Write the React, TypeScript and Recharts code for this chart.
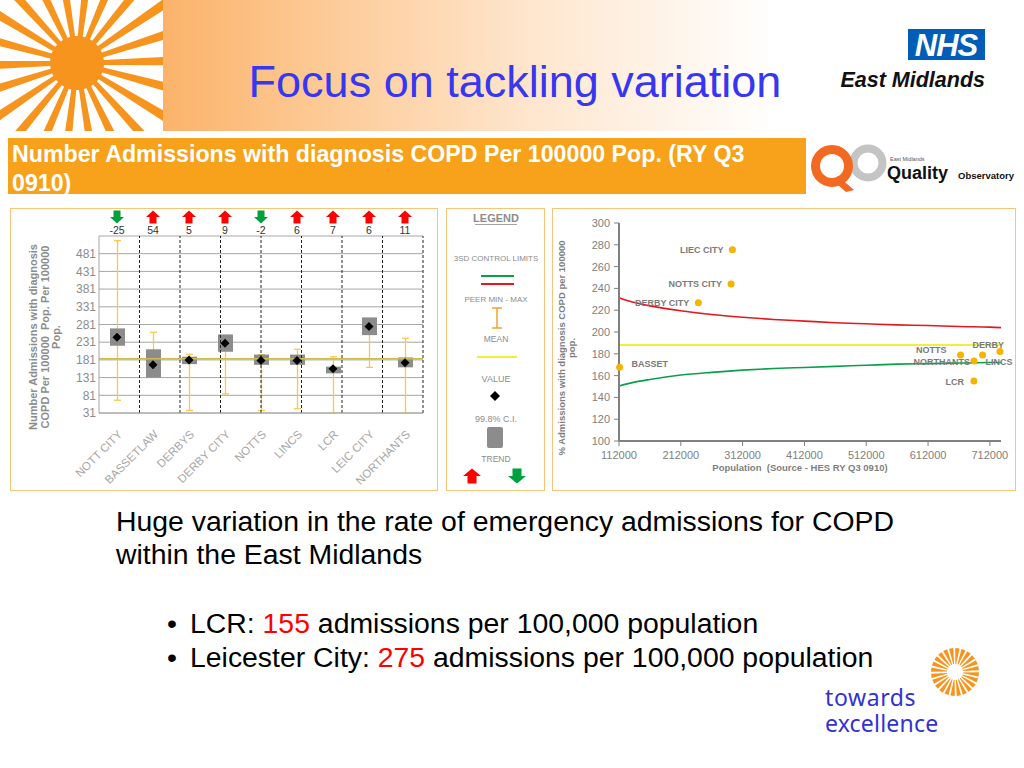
import React from 'react';
import { ComposedChart, Bar, Line, Scatter, XAxis, YAxis, CartesianGrid, ReferenceLine } from 'recharts';

// ---------- Left chart data ----------
const categories = ['NOTT CITY', 'BASSETLAW', 'DERBYS', 'DERBY CITY', 'NOTTS', 'LINCS', 'LCR', 'LEIC CITY', 'NORTHANTS'];
const rateValues = [245, 167, 181, 228, 179, 179, 156, 275, 173];
const ciLow = [221, 131, 169, 204, 167, 167, 143, 251, 160];
const ciHigh = [270, 211, 190, 253, 196, 196, 162, 301, 188];
const peerMin = [67, 150, 38, 85, 38, 43, 31, 160, 31];
const peerMax = [518, 259, 197, 240, 196, 211, 190, 265, 242];
const trendChange = [-25, 54, 5, 9, -2, 6, 7, 6, 11];
const peerMean = 184;
const leftTicks = [31, 81, 131, 181, 231, 281, 331, 381, 431, 481];
const dividerPositions = [1, 2, 3, 4, 5, 6, 7, 8];

// ---------- Right chart data ----------
const areaNames = ['LIEC CITY', 'NOTTS CITY', 'DERBY CITY', 'BASSET', 'NOTTS', 'NORTHANTS', 'LINCS', 'DERBY', 'LCR'];
const areaPopulation = [295500, 293300, 240400, 113000, 664600, 686200, 700200, 728300, 686200];
const areaRate = [275.5, 244, 226.8, 167.7, 179, 173.5, 179, 182, 155];
const limitPopulation = [112000, 137000, 162000, 212000, 262000, 312000, 362000, 412000, 462000, 512000, 562000, 612000, 662000, 712000, 730000];
const upperLimit = [231.5, 227, 224, 219.5, 216, 213.5, 211.5, 210, 208.5, 207.5, 206.5, 206, 205, 204.5, 204];
const lowerLimit = [150.5, 154, 156.5, 160.5, 163, 165, 166.5, 167.5, 168.5, 169.5, 170.5, 171, 171.5, 172, 172];
const regionMean = 188;
const popTicks = [112000, 212000, 312000, 412000, 512000, 612000, 712000];
const rightTicks = [100, 120, 140, 160, 180, 200, 220, 240, 260, 280, 300];

const leftData = categories.map((name, i) => ({
  name,
  value: rateValues[i],
  ci: [ciLow[i], ciHigh[i]],
  peer: [peerMin[i], peerMax[i]],
  trend: trendChange[i],
}));
const scatterData = areaNames.map((name, i) => ({ name, pop: areaPopulation[i], rate: areaRate[i] }));
const limitData = limitPopulation.map((pop, i) => ({ pop, upper: upperLimit[i], lower: lowerLimit[i] }));

const labelPlacement: Record<string, { dx: number; dy: number; anchor: string }> = {
  'LIEC CITY': { dx: -9, dy: 0, anchor: 'end' },
  'NOTTS CITY': { dx: -9, dy: 0, anchor: 'end' },
  'DERBY CITY': { dx: -9, dy: 0, anchor: 'end' },
  BASSET: { dx: 12, dy: -3, anchor: 'start' },
  NOTTS: { dx: -14, dy: -5, anchor: 'end' },
  NORTHANTS: { dx: -4, dy: 1, anchor: 'end' },
  LINCS: { dx: 3, dy: 7, anchor: 'start' },
  DERBY: { dx: 4, dy: -7, anchor: 'end' },
  LCR: { dx: -10, dy: 1, anchor: 'end' },
};

const FONT = '"Liberation Sans", Arial, sans-serif';

// ---------- shapes ----------
const arrowPoints = (cx: number, cy: number, up: boolean, w = 14, h = 13) => {
  const s = up ? 1 : -1;
  const hw = w / 2;
  const sw = w / 4;
  return [
    [cx, cy - s * h / 2],
    [cx + hw, cy],
    [cx + sw, cy],
    [cx + sw, cy + s * h / 2],
    [cx - sw, cy + s * h / 2],
    [cx - sw, cy],
    [cx - hw, cy],
  ].map((p) => p.join(',')).join(' ');
};

const TrendTick = (props: any) => {
  const { x, y, payload } = props;
  const t = trendChange[payload.index];
  const up = t > 0;
  return (
    <g>
      <polygon points={arrowPoints(x, y - 17, up)} fill={up ? '#ff0000' : '#00a03c'} />
      <text x={x} y={y} textAnchor="middle" fontSize={10.5} fill="#333" fontFamily={FONT}>{t}</text>
    </g>
  );
};

const CatTick = (props: any) => {
  const { x, y, payload } = props;
  const ax = x + 6;
  const ay = y + 20;
  return (
    <text x={ax} y={ay} transform={`rotate(-45 ${ax} ${ay})`} textAnchor="end" fontSize={11.5} fill="#a6a6a6" fontFamily={FONT}>
      {payload.value}
    </text>
  );
};

const PeerRange = (props: any) => {
  const { x, y, width, height } = props;
  if (x == null || y == null) return null;
  const cx = x + width / 2;
  const c = 3.5;
  const col = '#f5c955';
  return (
    <g>
      <line x1={cx} x2={cx} y1={y} y2={y + height} stroke={col} strokeWidth={1.3} />
      <line x1={cx - c} x2={cx + c} y1={y} y2={y} stroke={col} strokeWidth={1.3} />
      <line x1={cx - c} x2={cx + c} y1={y + height} y2={y + height} stroke={col} strokeWidth={1.3} />
    </g>
  );
};

const DiamondDot = (props: any) => {
  const { cx, cy, index } = props;
  if (cx == null || cy == null) return <g key={`d${index}`} />;
  const s = 4.5;
  return <polygon key={`d${index}`} points={`${cx},${cy - s} ${cx + s},${cy} ${cx},${cy + s} ${cx - s},${cy}`} fill="#000" />;
};

const PointShape = (props: any) => {
  const { cx, cy, payload } = props;
  const pl = labelPlacement[payload.name] || { dx: 8, dy: 0, anchor: 'start' };
  return (
    <g>
      <circle cx={cx} cy={cy} r={3.5} fill="#f5b400" />
      <text x={cx + pl.dx} y={cy + pl.dy} textAnchor={pl.anchor as any} dominantBaseline="central" fontSize={9} fontWeight="bold" fill="#7a7a7a" fontFamily={FONT}>
        {payload.name}
      </text>
    </g>
  );
};

// ---------- charts ----------
const LeftChart = () => (
  <ComposedChart width={428} height={284} data={leftData} margin={{ top: 0, right: 15, bottom: 0, left: 49 }}>
    <CartesianGrid vertical={false} stroke="#a6a6a6" />
    <XAxis dataKey="name" height={78} interval={0} tick={<CatTick />} tickLine={false} tickSize={0} axisLine={{ stroke: '#a6a6a6' }} />
    <XAxis xAxisId="err" dataKey="name" hide />
    <XAxis xAxisId="top" dataKey="name" orientation="top" height={29} interval={0} tick={<TrendTick />} tickLine={false} tickSize={0} axisLine={false} />
    <XAxis xAxisId="grid" type="number" domain={[0, 9]} allowDataOverflow hide />
    <YAxis type="number" domain={[31, 531]} ticks={leftTicks} allowDataOverflow width={40} tickLine={false} tickSize={0} tickMargin={3} axisLine={{ stroke: '#a6a6a6' }} tick={{ fontSize: 12, fill: '#8c8c8c', fontFamily: FONT }} interval={0} />
    {dividerPositions.map((v) => (
      <ReferenceLine key={v} xAxisId="grid" x={v} stroke="#222" strokeDasharray="3 2" />
    ))}
    <ReferenceLine xAxisId="grid" x={9} stroke="#a6a6a6" />
    <Bar xAxisId="err" dataKey="peer" barSize={15} shape={<PeerRange />} isAnimationActive={false} />
    <Bar dataKey="ci" barSize={15} fill="#8c8c8c" isAnimationActive={false} />
    <ReferenceLine y={peerMean} stroke="#cdbb4a" strokeWidth={1.5} />
    <Line dataKey="value" stroke="none" dot={DiamondDot} activeDot={false} isAnimationActive={false} />
  </ComposedChart>
);

const RightChart = () => (
  <ComposedChart width={466} height={284} margin={{ top: 16, right: 17, bottom: 0, left: 0 }}>
    <XAxis dataKey="pop" type="number" domain={[112000, 730000]} ticks={popTicks} height={50} interval={0}
      tick={{ fontSize: 11, fill: '#808080', fontFamily: FONT }} tickSize={5} tickMargin={5}
      axisLine={{ stroke: '#808080', strokeWidth: 2 }} tickLine={{ stroke: '#808080' }} />
    <YAxis type="number" domain={[100, 300]} ticks={rightTicks} width={67} interval={0}
      tick={{ fontSize: 11, fill: '#808080', fontFamily: FONT }} tickSize={5} tickMargin={4}
      axisLine={{ stroke: '#808080', strokeWidth: 2 }} tickLine={{ stroke: '#808080' }} />
    <YAxis yAxisId="frame" orientation="right" type="number" domain={[100, 300]} width={0} tick={false} tickLine={false}
      axisLine={{ stroke: '#808080', strokeWidth: 2 }} />
    <ReferenceLine y={regionMean} stroke="#f2ee3a" strokeWidth={2} />
    <Scatter data={scatterData} dataKey="rate" shape={<PointShape />} isAnimationActive={false} />
    <Line data={limitData} dataKey="upper" type="monotone" stroke="#e3191f" strokeWidth={1.6} dot={false} activeDot={false} isAnimationActive={false} />
    <Line data={limitData} dataKey="lower" type="monotone" stroke="#0aa04a" strokeWidth={1.6} dot={false} activeDot={false} isAnimationActive={false} />
  </ComposedChart>
);

// ---------- decorations ----------
const Sunburst = ({ cx, cy, n, r1, r2, a1, a2, color, rot }: any) => {
  const items = [];
  for (let i = 0; i < n; i++) {
    const a = (i / n) * Math.PI * 2 + rot;
    const p = [
      [cx + r1 * Math.cos(a - a1), cy + r1 * Math.sin(a - a1)],
      [cx + r2 * Math.cos(a - a2), cy + r2 * Math.sin(a - a2)],
      [cx + r2 * Math.cos(a + a2), cy + r2 * Math.sin(a + a2)],
      [cx + r1 * Math.cos(a + a1), cy + r1 * Math.sin(a + a1)],
    ].map((q) => q.join(',')).join(' ');
    items.push(<polygon key={i} points={p} fill={color} />);
  }
  return <g>{items}</g>;
};

const Background = () => (
  <svg width={1024} height={768} style={{ position: 'absolute', left: 0, top: 0 }}>
    <defs>
      <linearGradient id="hdr" x1="0" x2="1" y1="0" y2="0">
        <stop offset="0" stopColor="#fbae5c" />
        <stop offset="0.16" stopColor="#fbb36a" />
        <stop offset="0.35" stopColor="#fdcfa0" />
        <stop offset="0.52" stopColor="#fee6ce" />
        <stop offset="0.76" stopColor="#ffffff" />
      </linearGradient>
      <clipPath id="sunclip"><rect x={0} y={0} width={163} height={131} /></clipPath>
    </defs>
    <rect x={0} y={0} width={1024} height={131} fill="url(#hdr)" />
    <rect x={0} y={0} width={163} height={131} fill="#f7941e" />
    <g clipPath="url(#sunclip)">
      <Sunburst cx={77} cy={63} n={22} r1={27} r2={115} a1={0.05} a2={0.1} color="#ffffff" rot={0.12} />
    </g>
    <text x={515} y={97} textAnchor="middle" fontSize={45} fill="#3737f0" fontFamily={FONT}>Focus on tackling variation</text>

    {/* NHS logo */}
    <rect x={908} y={29} width={77} height={31} fill="#005eb8" />
    <text x={946} y={56} textAnchor="middle" fontSize={31} fontWeight="bold" fontStyle="italic" fill="#fff" fontFamily={FONT} letterSpacing={-1}>NHS</text>
    <text x={985} y={87} textAnchor="end" fontSize={21.5} fontWeight="bold" fontStyle="italic" fill="#111" fontFamily={FONT}>East Midlands</text>

    {/* orange title bar */}
    <rect x={8} y={138} width={798} height={56} fill="#f8a21c" />
    <text x={12} y={162} fontSize={23.2} fontWeight="bold" fill="#fff" fontFamily={FONT}>Number Admissions with diagnosis COPD Per 100000 Pop. (RY Q3</text>
    <text x={12} y={191} fontSize={23.2} fontWeight="bold" fill="#fff" fontFamily={FONT}>0910)</text>

    {/* QO logo */}
    <circle cx={868} cy={163} r={14.5} fill="none" stroke="#c4c4c4" strokeWidth={8} />
    <circle cx={832} cy={166} r={16.5} fill="none" stroke="#f26a21" strokeWidth={9} />
    <polygon points="838,176 854,190 846,192 832,180" fill="#f26a21" />
    <text x={890} y={161} fontSize={5.5} fill="#555" fontFamily={FONT}>East Midlands</text>
    <text x={887} y={179} fontSize={18} fontWeight={900} fill="#111" fontFamily={FONT}>Quality</text>
    <text x={958} y={179} fontSize={9.5} fontWeight="bold" fill="#111" fontFamily={FONT}>Observatory</text>

    {/* panels */}
    <rect x={10.5} y={208.5} width={427} height={282} fill="none" stroke="#f6c57a" strokeWidth={1} />
    <rect x={446.5} y={208.5} width={98} height={282} fill="none" stroke="#f6c57a" strokeWidth={1} />
    <rect x={552.5} y={208.5} width={463} height={282} fill="none" stroke="#f6c57a" strokeWidth={1} />

    {/* legend */}
    <g fontFamily={FONT} fill="#8c8c8c" textAnchor="middle">
      <text x={496} y={222} fontSize={11} fontWeight="bold">LEGEND</text>
      <line x1={475} x2={517} y1={224.5} y2={224.5} stroke="#8c8c8c" strokeWidth={0.8} />
      <text x={496} y={261} fontSize={8}>3SD CONTROL LIMITS</text>
      <line x1={481} x2={514} y1={276} y2={276} stroke="#0aa04a" strokeWidth={2} />
      <line x1={481} x2={514} y1={284} y2={284} stroke="#e3191f" strokeWidth={2} />
      <text x={496} y={302} fontSize={8}>PEER MIN - MAX</text>
      <line x1={497} x2={497} y1={308} y2={328} stroke="#f5a030" strokeWidth={1.5} />
      <line x1={492} x2={502} y1={308} y2={308} stroke="#f5a030" strokeWidth={1.5} />
      <line x1={492} x2={502} y1={328} y2={328} stroke="#f5a030" strokeWidth={1.5} />
      <text x={496} y={342} fontSize={8.5}>MEAN</text>
      <line x1={477} x2={517} y1={357} y2={357} stroke="#f2ee3a" strokeWidth={2} />
      <text x={496} y={382} fontSize={9}>VALUE</text>
      <polygon points="495,391 500,396 495,401 490,396" fill="#000" />
      <text x={496} y={422} fontSize={9}>99.8% C.I.</text>
      <rect x={487} y={427} width={16} height={21} rx={2} fill="#8c8c8c" />
      <text x={496} y={462} fontSize={8.5}>TREND</text>
    </g>
    <polygon points={arrowPoints(472, 476, true, 18, 15)} fill="#ff0000" />
    <polygon points={arrowPoints(517, 476, false, 18, 15)} fill="#00a03c" />

    {/* body text */}
    <g fontFamily={FONT} fontSize={28.4} fill="#000" style={{ whiteSpace: 'pre' }}>
      <text x={116} y={531}>Huge variation in the rate of emergency admissions for COPD</text>
      <text x={116} y={564}>within the East Midlands</text>
      <text x={167} y={633}>•</text>
      <text x={190} y={633}><tspan>LCR: </tspan><tspan fill="#ff0000">155</tspan><tspan> admissions per 100,000 population</tspan></text>
      <text x={167} y={667}>•</text>
      <text x={190} y={667}><tspan>Leicester City: </tspan><tspan fill="#ff0000">275</tspan><tspan> admissions per 100,000 population</tspan></text>
    </g>

    {/* towards excellence */}
    <Sunburst cx={955} cy={672} n={24} r1={8} r2={24} a1={0.05} a2={0.09} color="#f7941e" rot={0.1} />
    <text x={825} y={706} fontSize={23} letterSpacing={0.6} fill="#3232d2" fontFamily='"Noto Sans", sans-serif'>towards</text>
    <text x={825} y={732} fontSize={23} letterSpacing={0.2} fill="#3232d2" fontFamily='"Noto Sans", sans-serif'>excellence</text>
  </svg>
);

export default function App() {
  return (
    <div style={{ position: 'absolute', left: 0, top: 0, width: 1024, height: 768, background: '#fff', overflow: 'hidden', fontFamily: FONT }}>
      <Background />
      <div style={{ position: 'absolute', left: 10, top: 207 }}>
        <LeftChart />
      </div>
      <div style={{ position: 'absolute', left: 552, top: 207 }}>
        <RightChart />
      </div>
      {/* rotated axis titles */}
      <div style={{ position: 'absolute', left: 46 - 115, top: 337 - 18, width: 230, height: 36, transform: 'rotate(-90deg)', textAlign: 'center', fontSize: 11, lineHeight: '11.5px', fontWeight: 'bold', color: '#8c8c8c', whiteSpace: 'pre' }}>
        {'Number Admissions with diagnosis\nCOPD Per 100000  Pop. Per 100000\nPop.'}
      </div>
      <div style={{ position: 'absolute', left: 567 - 110, top: 348 - 10, width: 220, height: 20, transform: 'rotate(-90deg)', textAlign: 'center', fontSize: 9.5, lineHeight: '10px', fontWeight: 'bold', color: '#7f7f7f', whiteSpace: 'pre' }}>
        {'% Admissions with diagnosis COPD per 100000\npop.'}
      </div>
      <div style={{ position: 'absolute', left: 650, top: 462, width: 300, textAlign: 'center', fontSize: 9.5, fontWeight: 'bold', color: '#7f7f7f', whiteSpace: 'pre' }}>
        {'Population  (Source - HES RY Q3 0910)'}
      </div>
    </div>
  );
}
